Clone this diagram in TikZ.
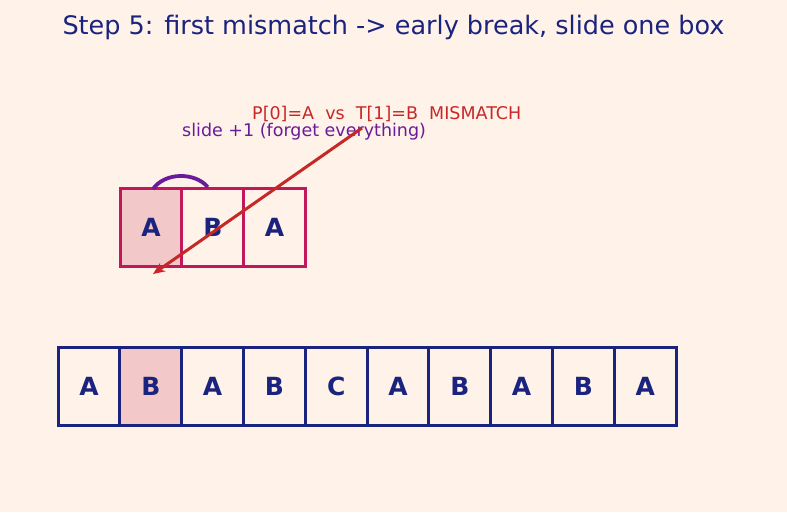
\documentclass[tikz,border=0pt]{standalone}
\usepackage{fontspec}
\setmainfont{DejaVu Sans}
\usetikzlibrary{positioning,calc,arrows.meta}
\definecolor{bgc}{HTML}{FFF2E8}
\definecolor{navy}{HTML}{1A237E}
\definecolor{pat}{HTML}{C2185B}
\definecolor{hit}{HTML}{F2C8C8}
\definecolor{mis}{HTML}{C62828}
\definecolor{slid}{HTML}{6A1B9A}
\tikzset{
  cell/.style={draw,line width=3pt,minimum width=61.8pt,minimum height=78pt,
    inner sep=0pt,outer sep=0pt,text=navy,font=\fontsize{25}{25}\selectfont\bfseries},
  pcell/.style={cell,draw=pat},
  tcell/.style={cell,draw=navy},
  note/.style={anchor=west,inner sep=0pt,font=\fontsize{17.5}{17.5}\selectfont}
}
\begin{document}
\begin{tikzpicture}[x=1pt,y=-1pt]
\fill[bgc] (0,0) rectangle (787,512);
\useasboundingbox (0,0) rectangle (787,512);
\node[text=navy,font=\fontsize{25.5}{25.5}\selectfont] (title) at (393.5,27)
  {Step 5: first mismatch -> early break, slide one box};
% pattern, shifted to position 1
\node[pcell,fill=hit] (p0) at (151,227) {A};
\node[pcell,right=0pt of p0] (p1) {B};
\node[pcell,right=0pt of p1] (p2) {A};
% text row
\foreach \c/\f [count=\i from 0] in {A/bgc,B/hit,A/bgc,B/bgc,C/bgc,A/bgc,B/bgc,A/bgc,B/bgc,A/bgc}
  \node[tcell,fill=\f] (t\i) at (89+61.8*\i,386) {\c};
% notes
\node[note,text=mis] (mm) at (252,114) {P[0]=A\ \ vs\ \ T[1]=B\ \ MISMATCH};
\node[note,text=slid] (sl) at (182,132) {slide +1 (forget everything)};
\coordinate (from) at (362,128);
\coordinate (to) at ($(p0.south)+(2,8)$);
\draw[mis,line width=3pt,-{Stealth[length=12pt,width=10pt]}] (from) -- (to);
\draw[slid,line width=3.8pt] ($(p0.north)+(2,1)$)
  .. controls ($(p0.north)+(14,-16)$) and ($(p1.north)+(-18,-16)$) .. ($(p1.north)+(-5,-1)$);
\end{tikzpicture}
\end{document}
